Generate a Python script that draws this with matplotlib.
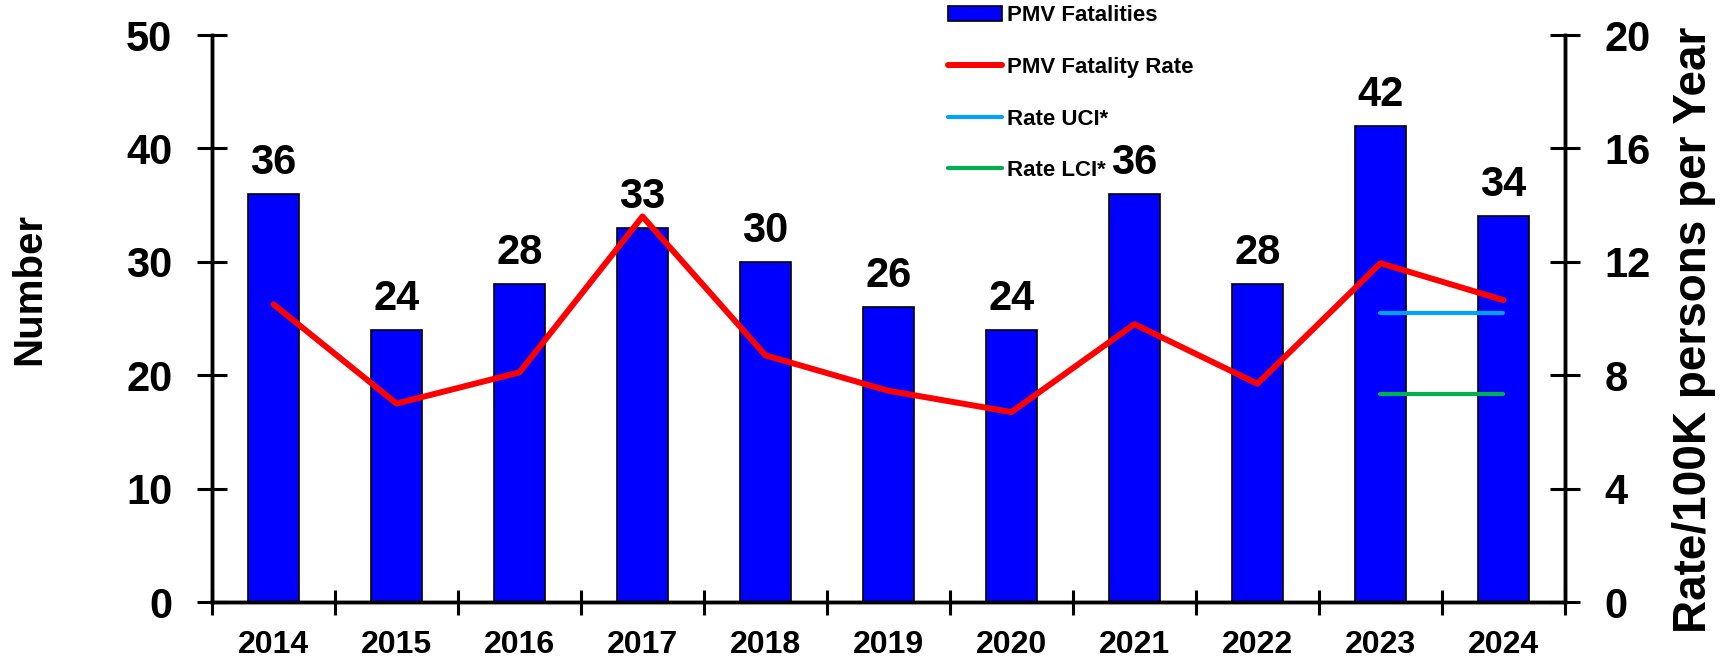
import numpy as np
import matplotlib
matplotlib.use("Agg")
import matplotlib.pyplot as plt

plt.rcParams['font.family'] = ['Liberation Sans', 'DejaVu Sans']
plt.rcParams['font.weight'] = 'bold'

years = ['2014', '2015', '2016', '2017', '2018', '2019', '2020', '2021', '2022', '2023', '2024']
fatalities = [36, 24, 28, 33, 30, 26, 24, 36, 28, 42, 34]
rate = [10.5, 7.0, 8.1, 13.6, 8.7, 7.45, 6.7, 9.8, 7.7, 11.95, 10.65]
ci_years = ['2023', '2024']
rate_uci = [10.2, 10.2]
rate_lci = [7.35, 7.35]

fig = plt.figure(figsize=(17.25, 6.58), dpi=100)
ax = fig.add_axes([0.1229, 0.0851, 0.9072 - 0.1229, 0.9468 - 0.0851])
ax2 = ax.twinx()

x = np.arange(len(years))
ci_x = [years.index(y) for y in ci_years]

bars = ax.bar(x, fatalities, width=0.41, color='#0000FF', edgecolor='black',
              linewidth=1.2, label='PMV Fatalities', zorder=2)
for xi, v in zip(x, fatalities):
    ax.annotate(str(v), (xi, v), xytext=(0, 14.5), textcoords='offset points',
                ha='center', va='baseline', fontsize=30, fontweight='bold')

l1, = ax2.plot(x, rate, color='#FF0000', lw=4.3, solid_capstyle='round',
               solid_joinstyle='round', label='PMV Fatality Rate')
l2, = ax2.plot(ci_x, rate_uci, color='#00A2FF', lw=3, solid_capstyle='round',
               label='Rate UCI*')
l3, = ax2.plot(ci_x, rate_lci, color='#00B050', lw=3, solid_capstyle='round',
               label='Rate LCI*')

ax.set_xlim(-0.5, len(years) - 0.5)
ax.set_ylim(0, 50)
ax2.set_ylim(0, 20)
ax.set_yticks(np.arange(0, 51, 10))
ax2.set_yticks(np.arange(0, 21, 4))
ax.set_xticks(x)
ax.set_xticklabels(years)
ax.set_xticks(np.arange(-0.5, len(years), 1), minor=True)

for a in (ax, ax2):
    a.spines['top'].set_visible(False)
    for s in ('left', 'right', 'bottom'):
        a.spines[s].set_linewidth(2.5)

ax.tick_params(axis='y', direction='inout', length=21, width=2.2, labelsize=30, pad=18)
ax2.tick_params(axis='y', direction='inout', length=21, width=2.2, labelsize=30, pad=18)
ax.tick_params(axis='x', which='major', length=0, labelsize=23, pad=20)
ax.tick_params(axis='x', which='minor', direction='inout', length=18, width=2.2)

fig.text(0.017, 1 - 289 / 658, 'Number', rotation=90, ha='center', va='center',
         fontsize=29, fontweight='bold')
fig.text(0.982, 1 - 330 / 658, 'Rate/100K persons per Year', rotation=90,
         ha='center', va='center', fontsize=33, fontweight='bold')

fig.legend([bars, l1, l2, l3],
           ['PMV Fatalities', 'PMV Fatality Rate', 'Rate UCI*', 'Rate LCI*'],
           loc='upper left', bbox_to_anchor=(0.5496, 0.992), frameon=False,
           fontsize=16, labelspacing=1.38, handlelength=2.43, handletextpad=0.23,
           borderpad=0, borderaxespad=0)

fig.savefig('out.png', dpi=100)
